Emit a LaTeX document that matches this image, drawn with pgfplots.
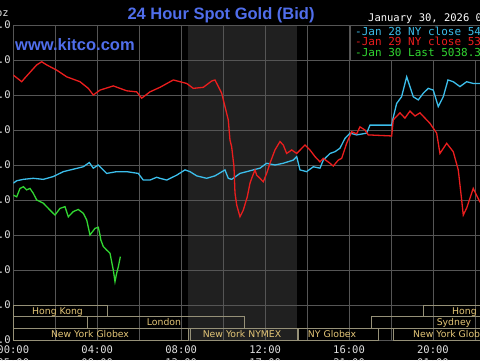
\documentclass[border=0pt]{standalone}
\usepackage{pgfplots}
\pgfplotsset{compat=1.18}
\usepackage{fontspec}
\setmainfont{Liberation Sans}
\newfontfamily\monofont{DejaVu Sans Mono}
\newfontfamily\sessfont{DejaVu Sans}
\definecolor{gridc}{RGB}{85,85,85}
\definecolor{nyshade}{RGB}{32,32,32}
\definecolor{cy}{RGB}{60,190,235}
\definecolor{rd}{RGB}{235,30,30}
\definecolor{gr}{RGB}{50,215,50}
\definecolor{ttl}{RGB}{80,110,235}
\definecolor{sessbox}{RGB}{150,145,120}
\definecolor{sesstxt}{RGB}{228,198,120}
\definecolor{tickc}{RGB}{225,225,225}
\begin{document}
\begin{tikzpicture}
\fill[black] (0pt,0pt) rectangle (480pt,360pt);
\begin{scope}
\clip (0pt,0pt) rectangle (480pt,360pt);
% shaded NY trading hours (08:20 - 13:30)
\fill[nyshade] ({13.3pt+20.985pt*8.333},20pt) rectangle ({13.3pt+20.985pt*13.5},335pt);
\begin{axis}[
  at={(13.3pt,20pt)}, anchor=south west,
  scale only axis, width=503.6pt, height=315pt,
  xmin=0, xmax=24, ymin=4800, ymax=5700,
  axis line style={draw=gridc, line width=0.8pt},
  grid=major,
  major grid style={draw=gridc, line width=0.8pt},
  tick style={draw=none},
  xtick={0,2,...,24},
  xticklabels={00:00,,04:00,,08:00,,12:00,,16:00,,20:00,,24:00},
  ytick={4800,4900,...,5700},
  yticklabels={4800.0,4900.0,5000.0,5100.0,5200.0,5300.0,5400.0,5500.0,5600.0,5700.0},
  xticklabel style={font=\monofont\fontsize{10.5}{12}\selectfont, text=tickc, anchor=north, inner sep=0pt, yshift=-5.5pt},
  yticklabel style={font=\monofont\fontsize{10.5}{12}\selectfont, text=tickc, anchor=east, inner sep=0pt, xshift=-2.5pt},
]
% Jan 28 (cyan)
\addplot[cy, line width=1.3pt] coordinates {
(0,5248)(0.162,5255)(0.477,5259)(0.953,5262)(1.430,5259)(1.906,5267)(2.383,5281)(2.859,5288)(3.336,5295)(3.622,5307)(3.812,5291)(4.051,5300)(4.451,5276)(4.927,5281)(5.404,5281)(5.957,5276)(6.195,5257)(6.514,5257)(6.833,5265)(6.991,5262)(7.310,5257)(7.787,5271)(8.182,5286)(8.420,5281)(8.740,5269)(9.216,5262)(9.612,5269)(10.088,5286)(10.245,5262)(10.407,5259)(10.803,5276)(11.122,5281)(11.437,5286)(11.756,5291)(12.075,5305)(12.471,5300)(12.866,5305)(13.343,5314)(13.505,5324)(13.662,5286)(13.981,5281)(14.296,5295)(14.615,5291)(14.773,5314)(15.092,5333)(15.330,5338)(15.568,5348)(15.806,5376)(16.045,5391)(16.364,5386)(16.841,5391)(16.998,5414)(18.032,5414)(18.080,5429)(18.270,5476)(18.504,5495)(18.747,5552)(18.904,5524)(19.061,5495)(19.300,5486)(19.538,5505)(19.776,5519)(20.014,5514)(20.252,5467)(20.491,5495)(20.715,5543)(20.967,5538)(21.286,5524)(21.606,5538)(21.920,5533)(22.230,5533)(22.5,5530)};
% Jan 29 (red)
\addplot[rd, line width=1.3pt] coordinates {
(0,5557)(0.400,5538)(0.558,5549)(1.115,5586)(1.353,5595)(1.592,5586)(2.068,5571)(2.545,5552)(3.178,5538)(3.574,5519)(3.812,5500)(4.132,5514)(4.765,5526)(5.404,5512)(5.880,5509)(6.119,5491)(6.514,5509)(6.991,5522)(7.625,5543)(7.944,5538)(8.263,5533)(8.578,5519)(9.054,5522)(9.454,5540)(9.612,5543)(9.931,5505)(10.088,5467)(10.245,5429)(10.327,5371)(10.407,5352)(10.517,5295)(10.565,5220)(10.646,5186)(10.803,5152)(10.960,5171)(11.151,5209)(11.280,5248)(11.361,5262)(11.518,5286)(11.599,5271)(11.756,5262)(11.913,5252)(12.075,5276)(12.232,5305)(12.471,5343)(12.709,5367)(12.866,5357)(13.028,5333)(13.267,5343)(13.505,5333)(13.900,5357)(14.138,5343)(14.377,5324)(14.615,5309)(14.773,5319)(15.092,5305)(15.249,5297)(15.487,5314)(15.649,5319)(15.887,5362)(16.126,5395)(16.364,5389)(16.521,5409)(16.760,5400)(16.917,5386)(18.032,5383)(18.108,5429)(18.189,5434)(18.427,5449)(18.665,5434)(18.904,5454)(19.142,5440)(19.380,5449)(19.619,5434)(19.857,5419)(20.176,5391)(20.333,5333)(20.653,5362)(20.967,5338)(21.206,5286)(21.368,5200)(21.444,5157)(21.606,5177)(21.920,5233)(22.230,5195)(22.5,5185)};
% Jan 30 (green)
\addplot[gr, line width=1.3pt] coordinates {
(0,5214)(0.162,5209)(0.319,5233)(0.477,5238)(0.639,5229)(0.796,5233)(0.953,5219)(1.115,5200)(1.430,5191)(1.749,5171)(1.987,5157)(2.225,5176)(2.464,5181)(2.621,5152)(2.859,5167)(3.097,5173)(3.336,5162)(3.498,5143)(3.655,5100)(3.893,5119)(4.051,5122)(4.132,5100)(4.170,5086)(4.289,5067)(4.451,5057)(4.608,5048)(4.765,5000)(4.846,4967)(4.927,4991)(5.004,5009)(5.085,5033)(5.100,5038.3)};
\end{axis}
% second row of time labels (cut off at the bottom)
\foreach \h/\t in {0/05:00,4/09:00,8/13:00,12/17:00,16/21:00,20/01:00}{
  \node[font=\monofont\fontsize{10.5}{12}\selectfont, text=tickc, anchor=base, inner sep=0pt] at ({13.3pt+20.985pt*\h},-6pt) {\t};
}
% session boxes
\begin{scope}[x=1pt,y=1pt,draw=sessbox, line width=0.8pt]
\draw (13.3,43.5) rectangle (107,55);
\draw (423,43.5) rectangle (560,55);
\draw (13.3,32) rectangle (87,43.5);
\draw (87,32) rectangle (244,43.5);
\draw (371,32) rectangle (560,43.5);
\draw (13.3,20) rectangle (188,32);
\draw (190,20) rectangle (297,32);
\draw (298,20) rectangle (378,32);
\draw (393,20) rectangle (560,32);
\end{scope}
\begin{scope}[x=1pt,y=1pt,every node/.style={font=\sessfont\fontsize{9.3}{11}\selectfont, text=sesstxt, inner sep=0pt}]
\node[anchor=base] at (57.5,46) {Hong Kong};
\node[anchor=base west] at (452,46) {Hong Kong};
\node[anchor=base] at (164,34.2) {London};
\node[anchor=base] at (454,34.2) {Sydney};
\node[anchor=base] at (90,22.5) {New York Globex};
\node[anchor=base] at (242,22.5) {New York NYMEX};
\node[anchor=base] at (332,22.5) {NY Globex};
\node[anchor=base west] at (413,22.5) {New York Globex};
\end{scope}
% legend
\filldraw[fill=black, draw=gridc, line width=0.8pt] (350.7pt,335pt) rectangle (560pt,299.5pt);
\begin{scope}[x=1pt,y=1pt,every node/.style={font=\monofont\fontsize{11}{13}\selectfont, inner sep=0pt, anchor=base west}]
\node[text=cy] at (355,325) {-Jan 28 NY close 5414.10};
\node[text=rd] at (355,314.3) {-Jan 29 NY close 5383.70};
\node[text=gr] at (355,303.5) {-Jan 30 Last 5038.30};
\end{scope}
\begin{scope}[x=1pt,y=1pt,every node/.style={font=\monofont\fontsize{10.5}{12}\selectfont, inner sep=0pt, anchor=base west}]
\node[text=white] at (368,339) {January 30, 2026 05:05 NY Time};
\node[text=tickc, anchor=base east] at (9,344) {USD/oz};
\end{scope}
% title and site
\node[text=ttl, font=\bfseries\fontsize{16.5}{19}\selectfont, anchor=base, inner sep=0pt] at (221pt,340.5pt) {24 Hour Spot Gold (Bid)};
\node[text=ttl, font=\bfseries\fontsize{16.5}{19}\selectfont, anchor=base west, inner sep=0pt] at (15pt,309.3pt) {www.kitco.com};
\end{scope}
\pgfresetboundingbox
\path[use as bounding box] (0pt,0pt) rectangle (480pt,360pt);
\end{tikzpicture}
\end{document}
